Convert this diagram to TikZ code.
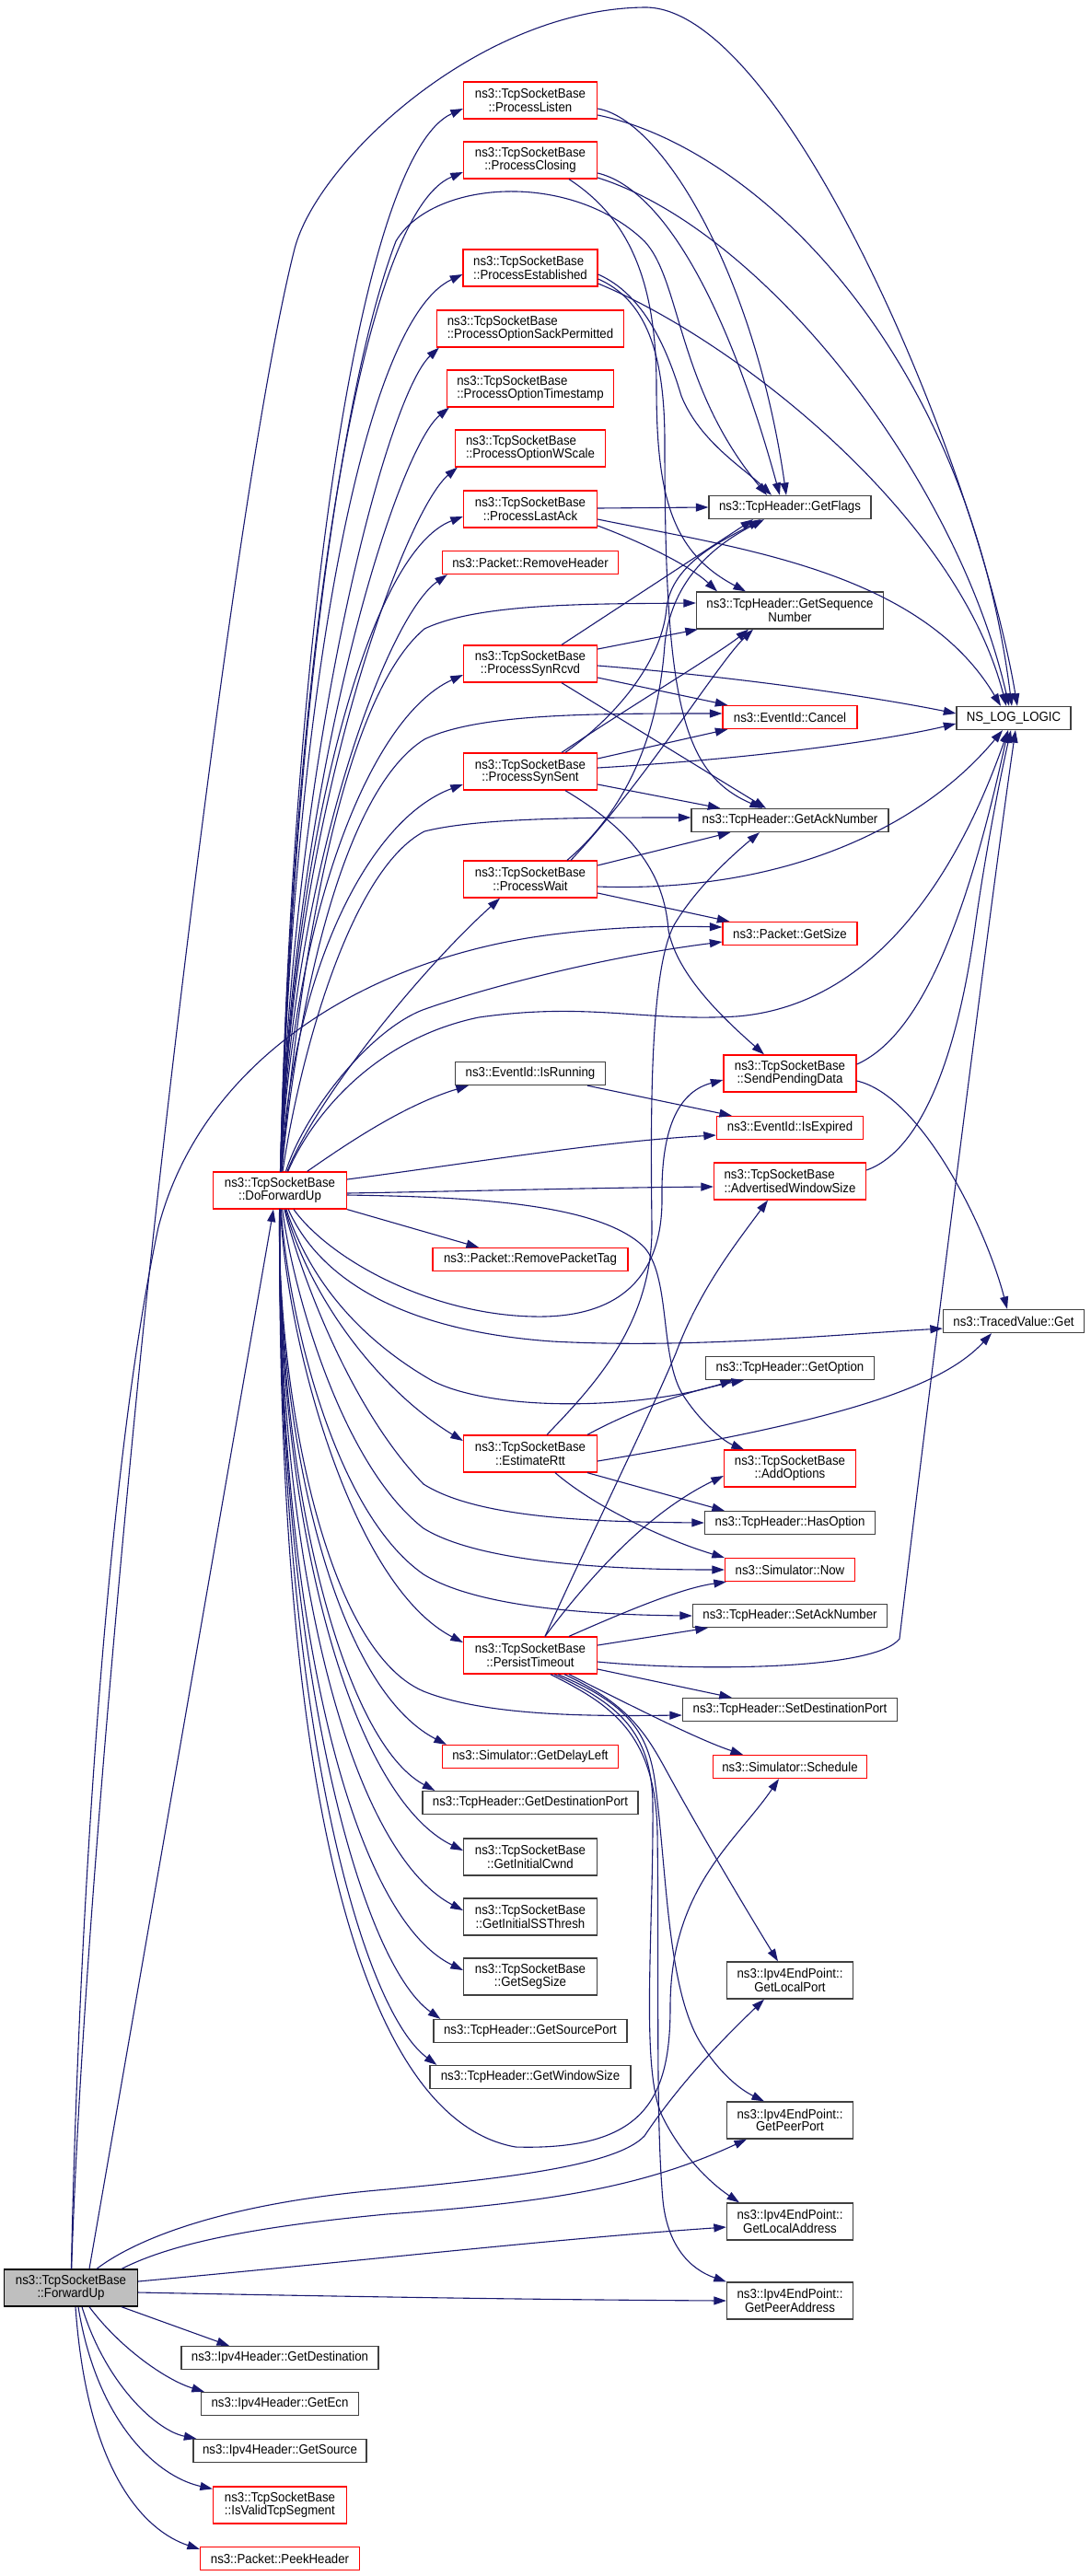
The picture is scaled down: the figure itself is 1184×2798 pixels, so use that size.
\documentclass[tikz,border=0pt]{standalone}
\usepackage{fontspec}
\newfontfamily\dgfam[FakeStretch=0.92]{Liberation Sans}
\newcommand\dgfont{\dgfam\fontsize{14.4pt}{13.3pt}\selectfont}
\usetikzlibrary{arrows.meta}
\definecolor{edgec}{HTML}{191970}
\definecolor{nodered}{HTML}{FF0000}
\definecolor{nodeblack}{HTML}{404040}
\definecolor{nodegray}{HTML}{BFBFBF}
\tikzset{
  nd/.style={line width=1.3pt, inner sep=0pt, minimum height=25pt, align=center, font=\dgfont, text=black, fill=white},
  rn/.style={nd, draw=nodered},
  bn/.style={nd, draw=nodeblack},
  tl/.style={minimum height=40pt},
  lft/.style={align=left},
  e/.style={draw=edgec, line width=1.1pt, -{Triangle[length=13.5pt,width=9pt]}},
}
\begin{document}
\begin{tikzpicture}[x=1pt,y=-1pt]
\useasboundingbox (0,0) rectangle (1184,2798);
\fill[white] (0,0) rectangle (1184,2798);
% column 1
\node[bn,tl,fill=nodegray,draw=black,minimum width=145pt] (fu) at (77,2485) {ns3::TcpSocketBase\\::ForwardUp};
\node[rn,tl,minimum width=145pt] (df) at (304,1293) {ns3::TcpSocketBase\\::DoForwardUp};
\node[bn,minimum width=214pt] (igd) at (304,2561) {ns3::Ipv4Header::GetDestination};
\node[bn,minimum width=171pt] (iec) at (304,2611) {ns3::Ipv4Header::GetEcn};
\node[bn,minimum width=188pt] (isrc) at (304,2662) {ns3::Ipv4Header::GetSource};
\node[rn,tl,lft,minimum width=145pt] (ivs) at (304,2721) {ns3::TcpSocketBase\\::IsValidTcpSegment};
\node[rn,minimum width=173pt] (ph) at (304,2779) {ns3::Packet::PeekHeader};
% column 2
\node[rn,tl,minimum width=145pt] (pl) at (576,109) {ns3::TcpSocketBase\\::ProcessListen};
\node[rn,tl,minimum width=145pt] (pc) at (576,174) {ns3::TcpSocketBase\\::ProcessClosing};
\node[rn,tl,lft,minimum width=146pt] (pe) at (576,291) {ns3::TcpSocketBase\\::ProcessEstablished};
\node[rn,tl,lft,minimum width=203pt] (psp) at (576,357) {ns3::TcpSocketBase\\::ProcessOptionSackPermitted};
\node[rn,tl,lft,minimum width=181pt] (pts) at (576,422) {ns3::TcpSocketBase\\::ProcessOptionTimestamp};
\node[rn,tl,lft,minimum width=163pt] (pws) at (576,487) {ns3::TcpSocketBase\\::ProcessOptionWScale};
\node[rn,tl,minimum width=145pt] (pla) at (576,553) {ns3::TcpSocketBase\\::ProcessLastAck};
\node[rn,minimum width=191pt] (rh) at (576,611) {ns3::Packet::RemoveHeader};
\node[rn,tl,minimum width=145pt] (psr) at (576,721) {ns3::TcpSocketBase\\::ProcessSynRcvd};
\node[rn,tl,minimum width=145pt] (pss) at (576,838) {ns3::TcpSocketBase\\::ProcessSynSent};
\node[rn,tl,minimum width=145pt] (pw) at (576,955) {ns3::TcpSocketBase\\::ProcessWait};
\node[bn,minimum width=163pt] (ir) at (576,1166) {ns3::EventId::IsRunning};
\node[rn,minimum width=212pt] (rpt) at (576,1368) {ns3::Packet::RemovePacketTag};
\node[rn,tl,minimum width=145pt] (er) at (576,1579) {ns3::TcpSocketBase\\::EstimateRtt};
\node[rn,tl,minimum width=145pt] (pt) at (576,1798) {ns3::TcpSocketBase\\::PersistTimeout};
\node[rn,minimum width=191pt] (gdl) at (576,1908) {ns3::Simulator::GetDelayLeft};
\node[bn,minimum width=234pt] (gdp) at (576,1958) {ns3::TcpHeader::GetDestinationPort};
\node[bn,tl,minimum width=145pt] (gic) at (576,2017) {ns3::TcpSocketBase\\::GetInitialCwnd};
\node[bn,tl,minimum width=145pt] (gis) at (576,2082) {ns3::TcpSocketBase\\::GetInitialSSThresh};
\node[bn,tl,minimum width=145pt] (gss) at (576,2147) {ns3::TcpSocketBase\\::GetSegSize};
\node[bn,minimum width=210pt] (gsp) at (576,2206) {ns3::TcpHeader::GetSourcePort};
\node[bn,minimum width=218pt] (gws) at (576,2256) {ns3::TcpHeader::GetWindowSize};
% column 3
\node[bn,minimum width=176pt] (gf) at (858,551) {ns3::TcpHeader::GetFlags};
\node[bn,tl,minimum width=203pt] (gsn) at (858,663) {ns3::TcpHeader::GetSequence\\Number};
\node[rn,minimum width=146pt] (can) at (858,779) {ns3::EventId::Cancel};
\node[bn,minimum width=214pt] (gan) at (858,891) {ns3::TcpHeader::GetAckNumber};
\node[rn,minimum width=146pt] (gsz) at (858,1014) {ns3::Packet::GetSize};
\node[rn,tl,minimum width=144pt] (spd) at (858,1166) {ns3::TcpSocketBase\\::SendPendingData};
\node[rn,minimum width=159pt] (iex) at (858,1225) {ns3::EventId::IsExpired};
\node[rn,tl,lft,minimum width=165pt] (aws) at (858,1283) {ns3::TcpSocketBase\\::AdvertisedWindowSize};
\node[bn,minimum width=183pt] (gopt) at (858,1486) {ns3::TcpHeader::GetOption};
\node[rn,tl,minimum width=143pt] (ao) at (858,1595) {ns3::TcpSocketBase\\::AddOptions};
\node[bn,minimum width=185pt] (hopt) at (858,1654) {ns3::TcpHeader::HasOption};
\node[rn,minimum width=141pt] (now) at (858,1705) {ns3::Simulator::Now};
\node[bn,minimum width=211pt] (sack) at (858,1755) {ns3::TcpHeader::SetAckNumber};
\node[bn,minimum width=233pt] (sdp) at (858,1857) {ns3::TcpHeader::SetDestinationPort};
\node[rn,minimum width=167pt] (sch) at (858,1919) {ns3::Simulator::Schedule};
\node[bn,tl,minimum width=137pt] (glp) at (858,2151) {ns3::Ipv4EndPoint::\\GetLocalPort};
\node[bn,tl,minimum width=137pt] (gpp) at (858,2303) {ns3::Ipv4EndPoint::\\GetPeerPort};
\node[bn,tl,minimum width=137pt] (gla) at (858,2413) {ns3::Ipv4EndPoint::\\GetLocalAddress};
\node[bn,tl,minimum width=137pt] (gpa) at (858,2499) {ns3::Ipv4EndPoint::\\GetPeerAddress};
% column 4
\node[bn,minimum width=124pt] (nll) at (1101,780) {NS\_LOG\_LOGIC};
\node[bn,minimum width=153pt] (tvg) at (1101,1435) {ns3::TracedValue::Get};

% ---- ForwardUp edges
\draw[e] ([xshift=20pt]fu.north) -- ([xshift=-7pt]df.south);
\draw[e] (fu) .. controls (88,2150) and (130,1700) .. (153,1470) .. controls (181,1194) and (262,500) .. (320,270) .. controls (345,175) and (520,10) .. (700,8) .. controls (850,6) and (1060,500) .. ([xshift=4pt]nll.north);
\draw[e] (fu) .. controls (85,2100) and (115,1600) .. (172,1333) .. controls (220,1150) and (400,1040) .. (600,1015) .. controls (680,1005) and (740,1006) .. ([yshift=7pt]gsz.west);
\draw[e] ([xshift=28pt]fu.north) .. controls (150,2430) and (250,2392) .. (421,2378) .. controls (550,2366) and (670,2352) .. (700,2320) .. controls (740,2260) and (790,2210) .. ([xshift=-28pt]glp.south);
\draw[e] ([xshift=55pt]fu.north) .. controls (180,2440) and (260,2420) .. (420,2405) .. controls (600,2392) and (700,2375) .. ([xshift=-47pt]gpp.south);
\draw[e] ([yshift=7pt]fu.east) .. controls (400,2455) and (600,2432) .. ([yshift=-6pt]gla.west);
\draw[e] ([yshift=-5pt]fu.east) .. controls (400,2495) and (600,2498) .. (gpa.west);
\draw[e] ([xshift=55pt]fu.south) -- ([xshift=-55pt]igd.north);
\draw[e] ([xshift=20pt]fu.south) .. controls (130,2550) and (180,2585) .. ([xshift=4pt]iec.north west);
\draw[e] ([xshift=12pt]fu.south) .. controls (115,2590) and (170,2640) .. ([xshift=4pt]isrc.north west);
\draw[e] ([xshift=8pt]fu.south) .. controls (105,2630) and (170,2690) .. ([yshift=-3pt]ivs.north west);
\draw[e] ([xshift=5pt]fu.south) .. controls (95,2690) and (160,2750) .. ([yshift=-3pt]ph.north west);

% ---- DoForwardUp upper fan
\draw[e] (df) .. controls (318,691) and (390,169) .. ([yshift=-9pt]pl.west);
\draw[e] (df) .. controls (318,723) and (390,234) .. ([yshift=-13pt]pc.west);
\draw[e] (df) .. controls (318,782) and (390,351) .. ([yshift=-7pt]pe.west);
\draw[e] (df) .. controls (318,815) and (420,430) .. ([xshift=3pt]psp.south west);
\draw[e] (df) .. controls (318,848) and (430,490) .. ([xshift=3pt]pts.south west);
\draw[e] (df) .. controls (318,880) and (440,555) .. ([xshift=3pt]pws.south west);
\draw[e] (df) .. controls (318,913) and (400,600) .. ([yshift=-8pt]pla.west);
\draw[e] (df) .. controls (318,942) and (420,670) .. ([xshift=6pt]rh.south west);
\draw[e] (df) .. controls (318,997) and (400,780) .. ([yshift=-12pt]psr.west);
\draw[e] (df) .. controls (318,1055) and (400,890) .. ([yshift=-14pt]pss.west);
\draw[e] (df) .. controls (340,1200) and (450,1060) .. ([xshift=-33pt]pw.south);
\draw[e] (df) .. controls (318,800) and (370,420) .. (430,262) .. controls (470,195) and (620,185) .. (700,262) .. controls (740,305) and (735,420) .. ([xshift=-25pt]gf.north);
\draw[e] (df) .. controls (325,1050) and (370,760) .. (461,683) .. controls (520,655) and (640,656) .. ([yshift=8pt]gsn.west);
\draw[e] (df) .. controls (322,1100) and (370,860) .. (461,803) .. controls (520,775) and (640,775) .. ([yshift=4pt]can.west);
\draw[e] (df) .. controls (325,1150) and (380,945) .. (461,903) .. controls (520,888) and (640,888) .. ([yshift=3pt]gan.west);
\draw[e] (df) .. controls (330,1210) and (400,1120) .. (459,1097) .. controls (520,1075) and (650,1040) .. ([yshift=-9pt]gsz.west);
\draw[e] (df) .. controls (335,1220) and (400,1130) .. (520,1105) .. controls (640,1088) and (700,1110) .. (800,1104) .. controls (950,1092) and (1040,950) .. ([xshift=-6pt]nll.south);
\draw[e] (df) .. controls (380,1240) and (440,1200) .. ([xshift=15pt]ir.south west);
% ---- DoForwardUp right side
\draw[e] ([yshift=12pt]df.east) .. controls (500,1265) and (650,1240) .. ([yshift=-8pt]iex.west);
\draw[e] ([yshift=-3pt]df.east) .. controls (500,1294) and (650,1290) .. ([yshift=-6pt]aws.west);
\draw[e] ([yshift=-5pt]df.east) .. controls (500,1300) and (650,1305) .. (700,1355) .. controls (730,1390) and (715,1480) .. (745,1520) .. controls (762,1545) and (785,1565) .. ([xshift=-50pt]ao.north);
\draw[e] (df.south east) -- ([xshift=-56pt]rpt.north);
\draw[e] (df) .. controls (360,1370) and (470,1428) .. (580,1430) .. controls (680,1432) and (720,1380) .. (719,1300) .. controls (718,1220) and (740,1185) .. ([yshift=-7pt]spd.west);
\draw[e] (df) .. controls (345,1385) and (430,1445) .. (600,1457) .. controls (750,1465) and (900,1450) .. ([yshift=-8pt]tvg.west);
% ---- DoForwardUp lower fan
\draw[e] (df) .. controls (340,1400) and (400,1460) .. (470,1500) .. controls (540,1535) and (700,1530) .. ([xshift=-62pt]gopt.south);
\draw[e] (df) .. controls (340,1420) and (420,1515) .. ([yshift=14pt]er.west);
\draw[e] (df) .. controls (325,1380) and (380,1530) .. (460,1612) .. controls (520,1650) and (650,1653) .. (hopt.west);
\draw[e] (df) .. controls (318,1400) and (370,1590) .. (460,1660) .. controls (520,1697) and (660,1705) .. (now.west);
\draw[e] (df) .. controls (312,1420) and (360,1640) .. (460,1710) .. controls (520,1747) and (650,1754) .. (sack.west);
\draw[e] (df) .. controls (310,1450) and (380,1720) .. ([yshift=14pt]pt.west);
\draw[e] (df) .. controls (300,1500) and (350,1790) .. (460,1837) .. controls (530,1865) and (650,1864) .. ([yshift=-6pt]sdp.west);
\draw[e] (df) .. controls (300,1550) and (360,1830) .. ([xshift=5pt]gdl.north west);
\draw[e] (df) .. controls (300,1600) and (370,1890) .. ([xshift=14pt]gdp.north west);
\draw[e] (df) .. controls (300,1650) and (380,1950) .. ([yshift=7pt]gic.west);
\draw[e] (df) .. controls (300,1700) and (380,2010) .. ([yshift=7pt]gis.west);
\draw[e] (df) .. controls (300,1750) and (380,2080) .. ([yshift=7pt]gss.west);
\draw[e] (df) .. controls (300,1800) and (390,2130) .. ([xshift=8pt]gsp.north west);
\draw[e] (df) .. controls (300,1850) and (390,2180) .. ([xshift=8pt]gws.north west);
\draw[e] (df) .. controls (300,1900) and (380,2300) .. (560,2332) .. controls (700,2336) and (728,2280) .. (728,2180) .. controls (728,2050) and (800,2000) .. ([xshift=-12pt]sch.south);

% ---- column 2 upper nodes
\draw[e] ([yshift=-9pt]pl.east) .. controls (720,130) and (820,300) .. ([xshift=-4pt]gf.north);
\draw[e] ([yshift=-16pt]pl.east) .. controls (820,160) and (1050,380) .. ([xshift=-2pt]nll.north);
\draw[e] ([yshift=-14pt]pc.east) .. controls (720,205) and (790,330) .. ([xshift=-11pt]gf.north);
\draw[e] ([yshift=-19pt]pc.east) .. controls (830,250) and (1040,520) .. ([xshift=-5pt]nll.north);
\draw[e] ([xshift=42pt]pc.south) .. controls (680,235) and (713,300) .. (713,420) .. controls (713,540) and (730,600) .. ([xshift=-48pt]gsn.north);
\draw[e] ([yshift=-7pt]pe.east) .. controls (700,320) and (725,380) .. (740,430) .. controls (760,480) and (810,510) .. ([xshift=-20pt]gf.north);
\draw[e] ([yshift=-12pt]pe.east) .. controls (700,325) and (722,380) .. (722,480) .. controls (722,760) and (740,840) .. ([xshift=-30pt]gan.north);
\draw[e] ([yshift=-17pt]pe.east) .. controls (800,370) and (1040,560) .. ([xshift=-8pt]nll.north);
\draw[e] ([yshift=1pt]pla.east) -- (gf.west);
\draw[e] ([yshift=-11pt]pla.east) .. controls (800,595) and (1000,620) .. ([xshift=-14pt]nll.north);
\draw[e] ([yshift=-18pt]pla.east) .. controls (700,590) and (750,615) .. ([xshift=-79pt]gsn.north);
\draw[e] ([xshift=34pt]psr.north) -- ([xshift=-40pt]gf.south);
\draw[e] ([yshift=16pt]psr.east) -- ([xshift=2pt]gsn.south west);
\draw[e] ([yshift=-2pt]psr.east) .. controls (800,735) and (950,757) .. ([yshift=5pt]nll.west);
\draw[e] ([yshift=-15pt]psr.east) -- ([xshift=6pt]can.north west);
\draw[e] ([xshift=34pt]psr.south) -- ([xshift=-26pt]gan.north);
\draw[e] ([xshift=34pt]pss.north) .. controls (680,770) and (780,710) .. ([xshift=-45pt]gsn.south);
\draw[e] ([xshift=38pt]pss.north) .. controls (680,770) and (720,710) .. (724,660) .. controls (730,610) and (790,585) .. ([xshift=-32pt]gf.south);
\draw[e] ([yshift=14pt]pss.east) -- ([xshift=6pt]can.south west);
\draw[e] ([yshift=4pt]pss.east) .. controls (850,822) and (980,800) .. ([yshift=-6pt]nll.west);
\draw[e] ([yshift=-14pt]pss.east) -- ([xshift=32pt]gan.north west);
\draw[e] ([xshift=38pt]pss.south) .. controls (700,910) and (722,960) .. (726,1010) .. controls (735,1060) and (790,1110) .. ([xshift=-28pt]spd.north);
\draw[e] ([xshift=40pt]pw.north) .. controls (680,880) and (715,800) .. (722,700) .. controls (730,620) and (790,585) .. ([xshift=-28pt]gf.south);
\draw[e] ([xshift=44pt]pw.north) .. controls (700,850) and (780,720) .. ([xshift=-40pt]gsn.south);
\draw[e] ([yshift=15pt]pw.east) -- ([xshift=43pt]gan.south west);
\draw[e] ([yshift=-8pt]pw.east) .. controls (850,970) and (1000,900) .. ([xshift=-12pt]nll.south);
\draw[e] ([yshift=-15pt]pw.east) -- ([xshift=8pt]gsz.north west);
\draw[e] ([xshift=62pt]ir.south) -- ([xshift=17pt]iex.north west);
% ---- column 3 callers
\draw[e] ([yshift=10pt]spd.east) .. controls (1000,1125) and (1050,1000) .. ([xshift=-6pt]nll.south);
\draw[e] ([yshift=-8pt]spd.east) .. controls (1000,1190) and (1070,1330) .. ([xshift=-7pt]tvg.north);
\draw[e] ([yshift=12pt]aws.east) .. controls (1000,1250) and (1040,1150) .. (1060,1000) .. controls (1070,930) and (1085,850) .. ([xshift=-3pt]nll.south);
% ---- EstimateRtt
\draw[e] ([xshift=18pt]er.north) .. controls (640,1510) and (710,1440) .. (708,1330) .. controls (706,1180) and (708,1040) .. (735,1000) .. controls (760,960) and (800,925) .. ([xshift=-33pt]gan.south);
\draw[e] ([xshift=62pt]er.north) .. controls (690,1530) and (750,1510) .. ([xshift=-50pt]gopt.south);
\draw[e] ([yshift=-8pt]er.east) .. controls (900,1545) and (1020,1510) .. ([xshift=-24pt]tvg.south);
\draw[e] ([xshift=62pt]er.south) -- ([xshift=22pt]hopt.north west);
\draw[e] ([xshift=27pt]er.south) .. controls (650,1640) and (730,1675) .. (now.north west);
% ---- PersistTimeout
\draw[e] ([xshift=16pt]pt.north) .. controls (650,1650) and (700,1550) .. (734,1470) .. controls (760,1400) and (800,1350) .. ([xshift=-24pt]aws.south);
\draw[e] ([xshift=16pt]pt.north) .. controls (650,1700) and (710,1640) .. ([yshift=-8pt]ao.west);
\draw[e] ([xshift=42pt]pt.north) .. controls (680,1750) and (740,1725) .. ([xshift=2pt]now.south west);
\draw[e] ([yshift=11pt]pt.east) -- ([xshift=17pt]sack.south west);
\draw[e] ([yshift=-7pt]pt.east) .. controls (750,1815) and (950,1815) .. (977,1780) .. controls (1010,1500) and (1080,950) .. ([xshift=2pt]nll.south);
\draw[e] ([yshift=-15pt]pt.east) -- ([xshift=54pt]sdp.north west);
\draw[e] ([xshift=42pt]pt.south) .. controls (700,1860) and (760,1890) .. ([xshift=-51pt]sch.north);
\draw[e] ([xshift=37pt]pt.south) .. controls (680,1850) and (700,1880) .. (722,1920) .. controls (760,1990) and (820,2090) .. ([xshift=-13pt]glp.north);
\draw[e] ([xshift=30pt]pt.south) .. controls (680,1850) and (705,1880) .. (712,1940) .. controls (725,2040) and (725,2170) .. (765,2225) .. controls (785,2255) and (805,2270) .. ([xshift=-28pt]gpp.north);
\draw[e] ([xshift=26pt]pt.south) .. controls (670,1850) and (708,1880) .. (709,1960) .. controls (710,2100) and (695,2250) .. (720,2300) .. controls (740,2340) and (770,2370) .. ([xshift=-55pt]gla.north);
\draw[e] ([xshift=22pt]pt.south) .. controls (660,1850) and (712,1880) .. (714,1990) .. controls (716,2150) and (712,2300) .. (720,2390) .. controls (725,2440) and (750,2465) .. (gpa.north west);
\end{tikzpicture}
\end{document}
